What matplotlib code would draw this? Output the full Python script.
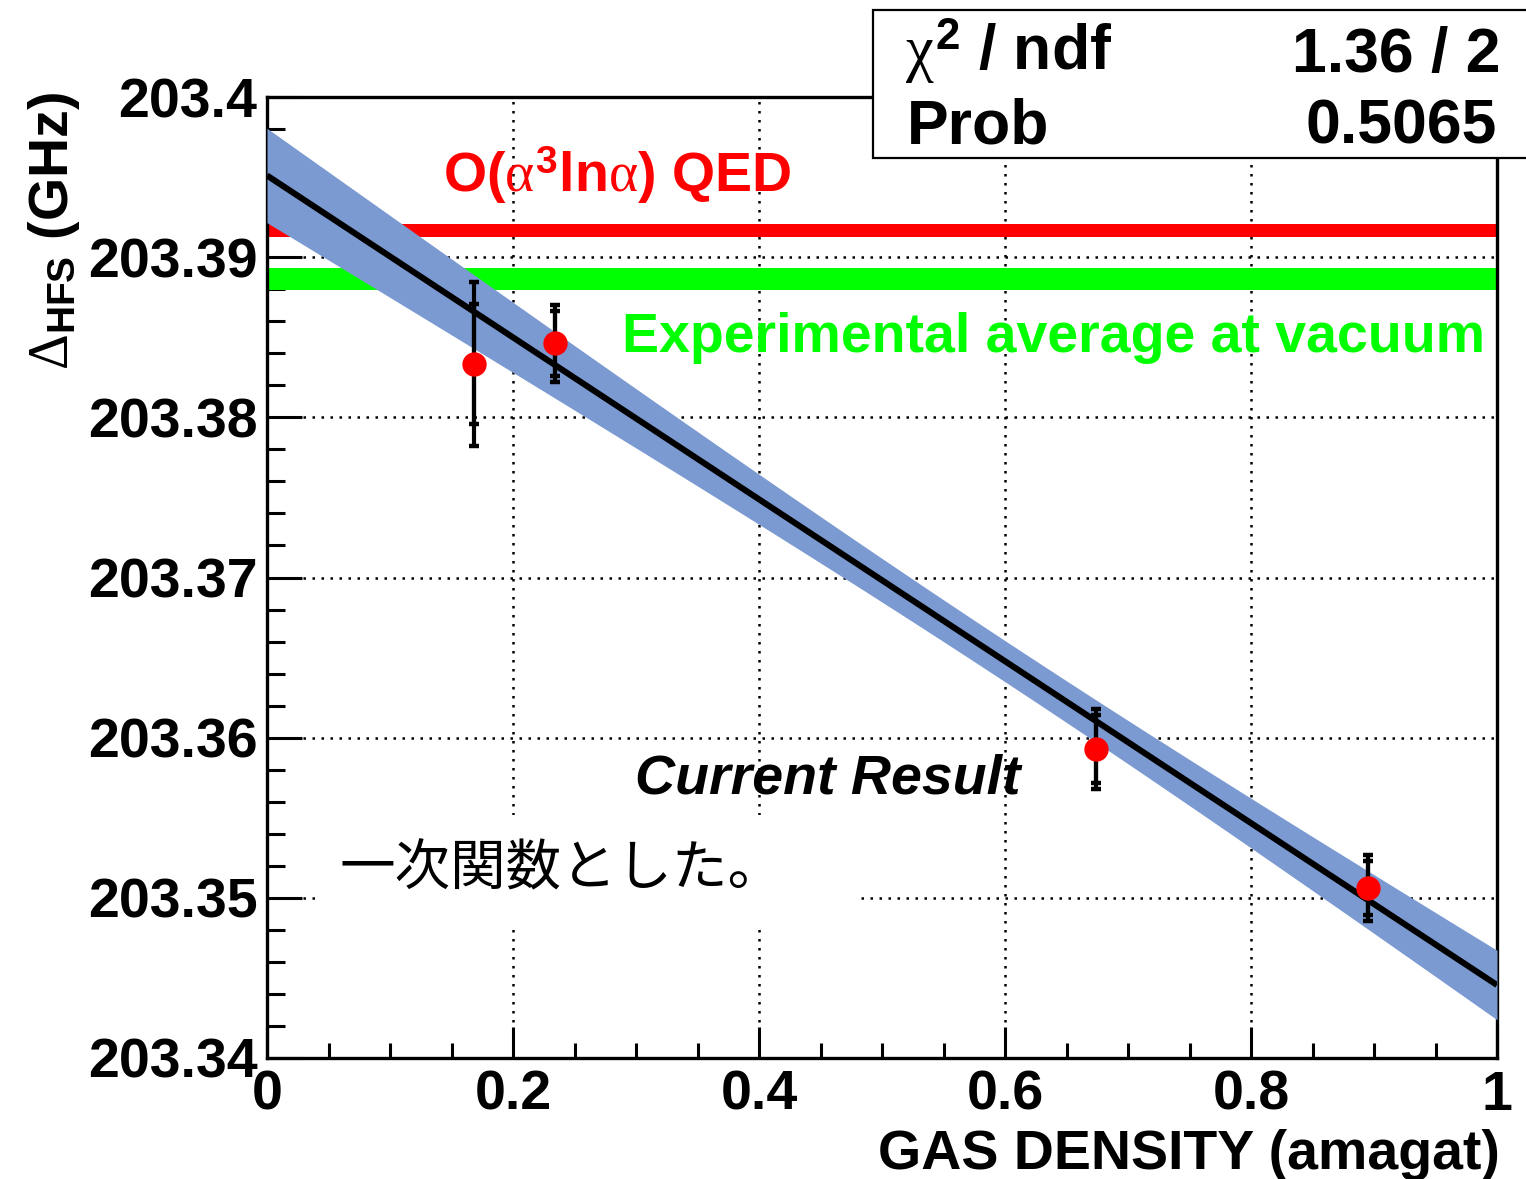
import numpy as np
import matplotlib
matplotlib.use("Agg")
import matplotlib.pyplot as plt
from matplotlib.patches import Rectangle
from matplotlib.ticker import MultipleLocator

# ---- measurements: Ps-HFS vs. gas density ----
density = [0.168, 0.234, 0.674, 0.895]                      # amagat
hfs = [203.38333, 203.38462, 203.35929, 203.35060]          # GHz
err_total = [0.00510, 0.00241, 0.00250, 0.00206]            # GHz
err_stat = [0.00377, 0.00204, 0.00212, 0.00169]             # GHz

# reference values (GHz)
qed_value, qed_err = 203.39169, 0.00041
exp_avg, exp_err = 203.38865, 0.00067

x_ticks = [0.0, 0.2, 0.4, 0.6, 0.8, 1.0]
x_tick_labels = ["0", "0.2", "0.4", "0.6", "0.8", "1"]
y_ticks = [203.34, 203.35, 203.36, 203.37, 203.38, 203.39, 203.40]
y_tick_labels = ["203.34", "203.35", "203.36", "203.37", "203.38", "203.39", "203.4"]

chi2_text = "1.36 / 2"
prob_text = "0.5065"

# ---- styling ----
plt.rcParams["font.family"] = ["Liberation Sans", "Noto Sans CJK JP", "DejaVu Sans"]
plt.rcParams["font.weight"] = "bold"
plt.rcParams["mathtext.fontset"] = "custom"
plt.rcParams["mathtext.rm"] = "Liberation Serif:normal"
plt.rcParams["mathtext.it"] = "Liberation Serif:normal"
plt.rcParams["mathtext.bf"] = "Liberation Sans:bold"
plt.rcParams["mathtext.sf"] = "Liberation Sans:bold"

W, H = 1526, 1179
fig = plt.figure(figsize=(W / 100, H / 100), dpi=100)


def fx(px):
    return px / W


def fy(py):
    return 1 - py / H


ax = fig.add_axes([fx(267), fy(1058), fx(1497) - fx(267), fy(97) - fy(1058)])
ax.set_xlim(0, 1)
ax.set_ylim(203.34, 203.40)

# weighted linear fit with its 1-sigma confidence band
x = np.asarray(density)
y = np.asarray(hfs)
s = np.asarray(err_total)
coef, cov = np.polyfit(x, y, 1, w=1 / s, cov="unscaled")
xx = np.linspace(0, 1, 400)
fit = coef[0] * xx + coef[1]
sig = np.sqrt(cov[1, 1] + 2 * xx * cov[0, 1] + xx ** 2 * cov[0, 0])

ax.set_axisbelow(True)
ax.grid(True, which="major", color="black", linestyle=(0, (1, 2.6)), linewidth=1.8)

ax.axhspan(qed_value - qed_err, qed_value + qed_err, color="#ff0000", lw=0, zorder=2)
ax.axhspan(exp_avg - exp_err, exp_avg + exp_err, color="#00ff00", lw=0, zorder=2)
ax.fill_between(xx, fit - sig, fit + sig, color="#7b9ad1", lw=0, zorder=3)
ax.plot(xx, fit, color="black", lw=4.4, zorder=4, solid_capstyle="butt")

for err in (err_total, err_stat):
    ax.errorbar(x, y, yerr=err, fmt="none", ecolor="black", elinewidth=3.0,
                capsize=3.5, capthick=3.2, zorder=5)
ax.plot(x, y, "o", color="#ff0000", mec="#ff0000", ms=16.5, zorder=6)

# white backing behind the note text
ax.add_patch(Rectangle((0.039, 203.3480), 0.443, 0.00718, facecolor="white",
                       edgecolor="none", zorder=1.5))

# axes / ticks
ax.set_xticks(x_ticks)
ax.set_xticklabels(x_tick_labels)
ax.set_yticks(y_ticks)
ax.set_yticklabels(y_tick_labels)
ax.xaxis.set_minor_locator(MultipleLocator(0.05))
ax.yaxis.set_minor_locator(MultipleLocator(0.002))
ax.tick_params(which="both", direction="in", width=2.2, top=False, right=False,
               labelsize=40)
ax.tick_params(axis="x", which="major", length=22, pad=8.5)
ax.tick_params(axis="x", which="minor", length=11)
ax.tick_params(axis="y", which="major", length=25, pad=7)
ax.tick_params(axis="y", which="minor", length=13)
for sp in ax.spines.values():
    sp.set_linewidth(2.4)

# axis titles
fig.text(fx(1500), fy(1169), "GAS DENSITY (amagat)", ha="right", va="baseline",
         fontsize=40, fontweight="bold")
fig.text(fx(68), fy(92), r"$\Delta_{\mathbf{HFS}}$ (GHz)", rotation=90,
         rotation_mode="anchor", ha="right", va="baseline", fontsize=40,
         fontweight="bold")

# annotations
fig.text(fx(443), fy(192), r"O($\alpha^{\mathbf{3}}$ln$\alpha$) QED", color="#ff0000",
         fontsize=40, fontweight="bold", va="baseline", ha="left")
fig.text(fx(622), fy(352), "Experimental average at vacuum", color="#00ff00",
         fontsize=40, fontweight="bold", va="baseline", ha="left")
fig.text(fx(635), fy(793), "Current Result", color="black", fontsize=40,
         fontweight="bold", fontstyle="italic", va="baseline", ha="left")
fig.text(fx(340), fy(885), "一次関数とした。", color="black", fontsize=40,
         fontweight="normal", family=["Noto Sans CJK JP", "DejaVu Sans"],
         va="baseline", ha="left")

# fit statistics box
fig.add_artist(Rectangle((fx(873), fy(158)), fx(1540) - fx(873), fy(10) - fy(158),
                         transform=fig.transFigure, facecolor="white",
                         edgecolor="black", lw=1.6, zorder=10))
fig.text(fx(905), fy(70), r"$\chi^{\mathbf{2}}$ / ndf", fontsize=45,
         fontweight="bold", va="baseline", ha="left", zorder=11)
fig.text(fx(1500), fy(72), chi2_text, fontsize=45, fontweight="bold",
         va="baseline", ha="right", zorder=11)
fig.text(fx(907), fy(143), "Prob", fontsize=45, fontweight="bold",
         va="baseline", ha="left", zorder=11)
fig.text(fx(1497), fy(143), prob_text, fontsize=45, fontweight="bold",
         va="baseline", ha="right", zorder=11)

fig.savefig("out.png", dpi=100)
